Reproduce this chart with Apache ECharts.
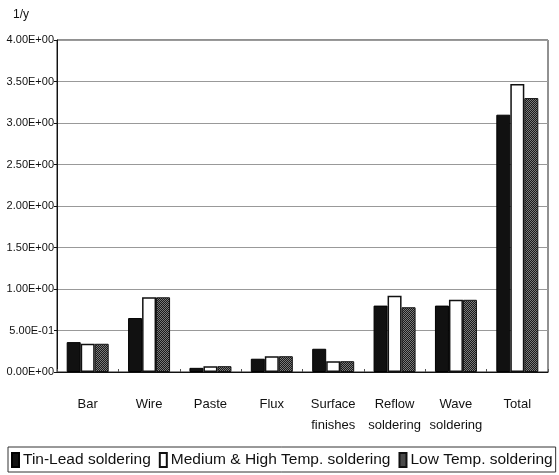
<!DOCTYPE html>
<html><head><meta charset="utf-8">
<script src="https://cdn.jsdelivr.net/npm/echarts@6/dist/echarts.min.js"></script>
<style>html,body{margin:0;padding:0;background:#fff}#c{width:559px;height:475px}</style>
</head><body><div id="c"></div>
<script>
const categories = ['Bar','Wire','Paste','Flux','Surface\nfinishes','Reflow\nsoldering','Wave\nsoldering','Total'];
const tinLead = [0.36,0.65,0.05,0.16,0.28,0.80,0.80,3.10];
const medHigh = [0.34,0.90,0.07,0.19,0.13,0.92,0.87,3.47];
const lowTemp = [0.34,0.90,0.07,0.19,0.13,0.78,0.87,3.30];
const seriesNames = ['Tin-Lead soldering','Medium & High Temp. soldering','Low Temp. soldering'];

function fmt(v){
  if (v === 0) return '0.00E+00';
  let e = Math.floor(Math.log10(v) + 1e-9);
  let m = v / Math.pow(10, e);
  let s = e < 0 ? '-' : '+';
  let ea = Math.abs(e);
  return m.toFixed(2) + 'E' + s + (ea < 10 ? '0' + ea : ea);
}

const pc = document.createElement('canvas');
pc.width = 2; pc.height = 2;
const pctx = pc.getContext('2d');
pctx.fillStyle = '#1a1a1a'; pctx.fillRect(0,0,2,2);
pctx.fillStyle = '#7a7a7a'; pctx.fillRect(0,0,1,1); pctx.fillRect(1,1,1,1);

const font = '"Liberation Sans Narrow","Liberation Sans",sans-serif';
const chart = echarts.init(document.getElementById('c'), null, {renderer:'canvas'});
chart.setOption({
  animation:false,
  backgroundColor:'#fff',
  textStyle:{fontFamily:font,color:'#111'},
  grid:{left:57,right:11,top:40,bottom:103,show:true,borderColor:'#222',borderWidth:1},
  graphic:[{type:'text',left:13,top:9,style:{text:'1/y',font:'12px '+font,fill:'#111'}}],
  legend:{
    bottom:3,left:8,
    padding:[5,3,4,3],
    borderColor:'#333',borderWidth:1,
    icon:'rect',
    itemWidth:7,itemHeight:14,itemGap:8,
    textStyle:{fontFamily:font,fontSize:15.5,color:'#111',padding:[0,0,0,-1]},
    data:seriesNames
  },
  xAxis:{
    type:'category',data:categories,
    axisLine:{lineStyle:{color:'#111'}},
    axisTick:{show:true,inside:true,length:3,alignWithLabel:false,lineStyle:{color:'#555'}},
    axisLabel:{fontSize:13,color:'#111',margin:22,lineHeight:21,fontFamily:font,interval:0}
  },
  yAxis:{
    type:'value',min:0,max:4,interval:0.5,
    axisLine:{show:true,lineStyle:{color:'#111'}},
    axisTick:{show:true,length:3,lineStyle:{color:'#111'}},
    splitLine:{lineStyle:{color:'#999',width:1}},
    axisLabel:{fontSize:11,color:'#111',margin:3,formatter:fmt,fontFamily:font}
  },
  series:[
    {name:seriesNames[0],type:'bar',data:tinLead,barWidth:14,barGap:'0%',
     itemStyle:{color:'#111',borderColor:'#000',borderWidth:1}},
    {name:seriesNames[1],type:'bar',data:medHigh,barWidth:14,barGap:'0%',
     itemStyle:{color:'#fff',borderColor:'#111',borderWidth:1.5}},
    {name:seriesNames[2],type:'bar',data:lowTemp,barWidth:14,barGap:'0%',
     itemStyle:{color:{image:pc,repeat:'repeat'},borderColor:'#111',borderWidth:1}}
  ]
});
</script></body></html>
